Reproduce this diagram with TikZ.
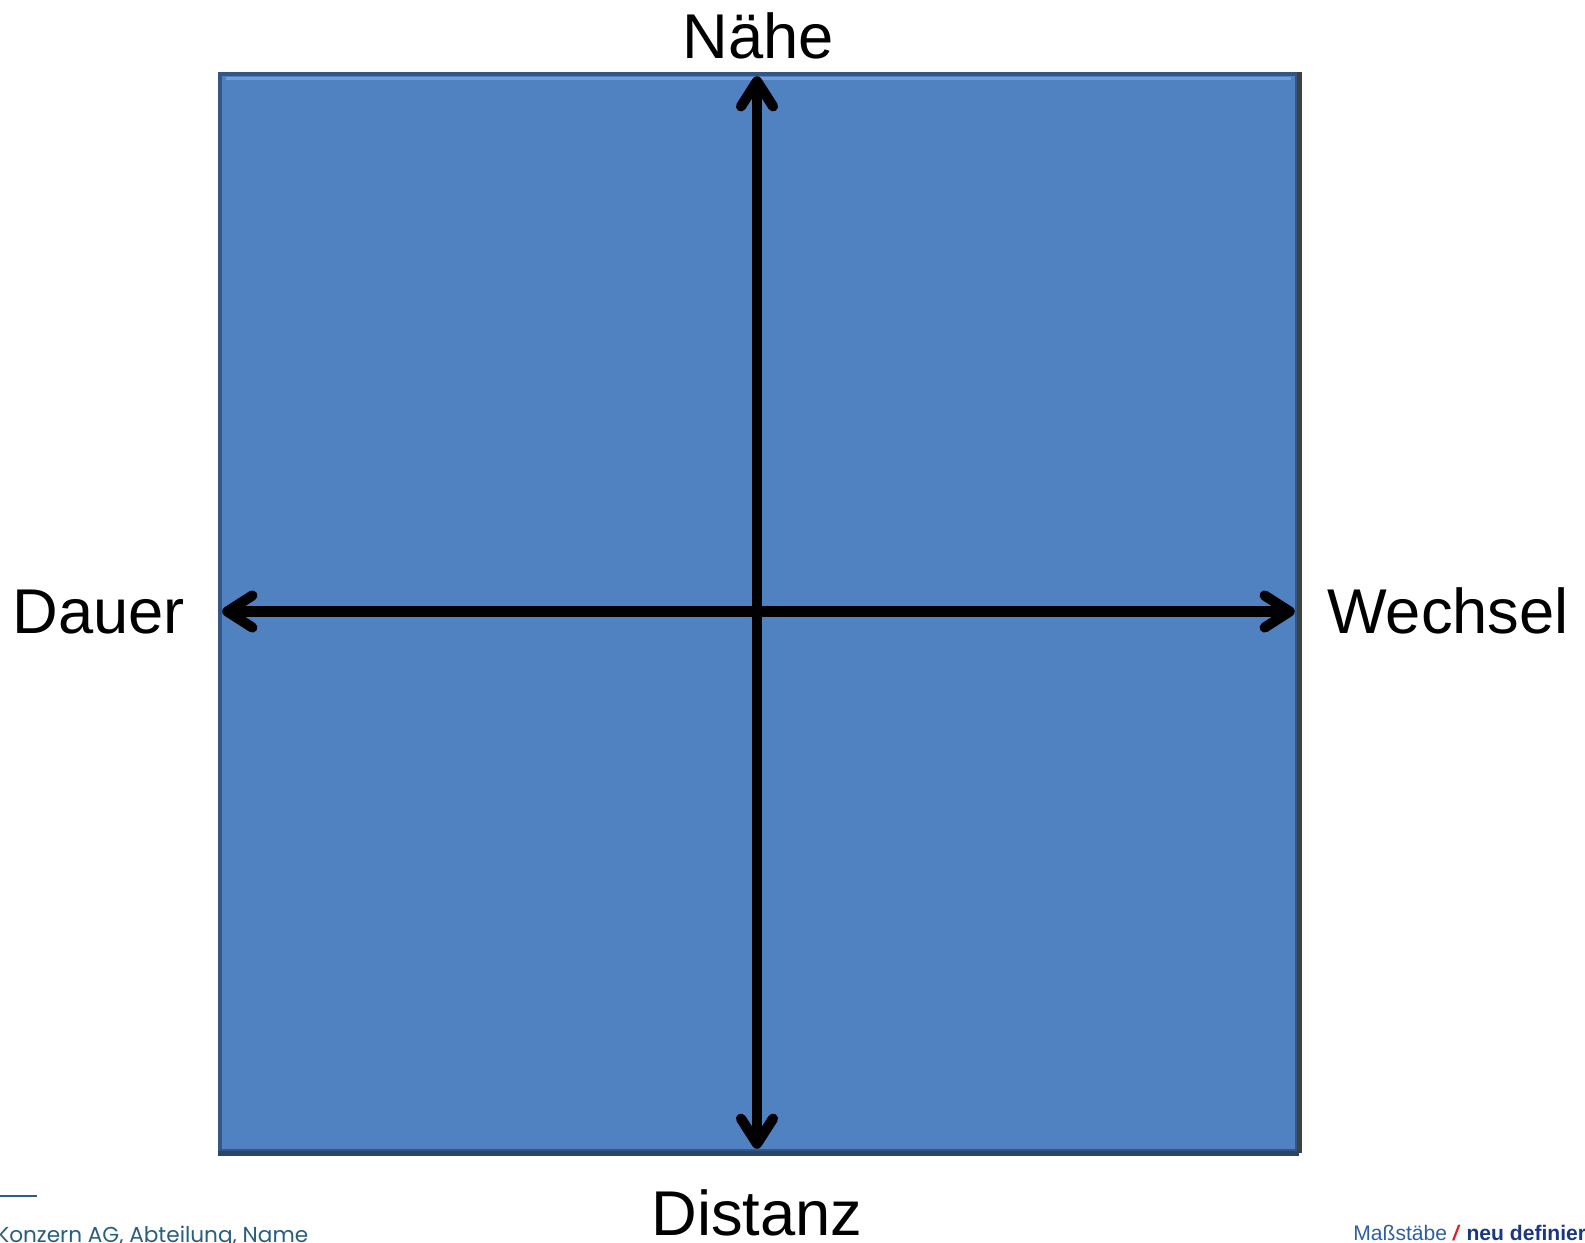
\documentclass[tikz,border=0pt]{standalone}
\usepackage{fontspec}
\setmainfont{Liberation Sans}
\newfontfamily\footfont{Poppins}
\usetikzlibrary{arrows.meta,positioning,calc}
\definecolor{boardblue}{RGB}{80,129,193}
\definecolor{boarddark}{RGB}{52,86,132}
\definecolor{boardlight}{RGB}{112,158,218}
\definecolor{footteal}{RGB}{40,95,125}
\definecolor{logoblue}{RGB}{45,95,165}
\definecolor{logodark}{RGB}{25,55,130}
\definecolor{logored}{RGB}{220,30,40}

\begin{document}
\begin{tikzpicture}[every node/.style={font=\fontsize{36}{40}\selectfont,inner sep=0pt},
  axis/.style={line width=5.8pt,line cap=round,{Straight Barb[length=0.5cm,width=0.64cm,round]}-{Straight Barb[length=0.5cm,width=0.64cm,round]}}]
  \useasboundingbox (0,0) rectangle (31.7,-24.84);
  % board with bevelled edges
  \node[draw=boarddark,line width=2pt,fill=boardblue,minimum width=21.54cm,minimum height=21.54cm] (sq) at (15.17,-12.25) {};
  \draw[boardlight,line width=1.5pt] ([xshift=0.15cm,yshift=-0.12cm]sq.north west) -- ([xshift=-0.15cm,yshift=-0.12cm]sq.north east);
  \draw[black!75,line width=3pt] ([xshift=0.02cm]sq.north east) -- ([xshift=0.02cm]sq.south east);
  \draw[boarddark!80!black,line width=3pt] ([yshift=-0.02cm]sq.south west) -- ([yshift=-0.02cm]sq.south east);
  % axes
  \coordinate (top) at ([yshift=-0.08cm]sq.north -| 15.14,0);
  \coordinate (bot) at ([yshift=0.08cm]sq.south -| 15.14,0);
  \coordinate (lft) at ([xshift=0.08cm]sq.west |- 0,-12.23);
  \coordinate (rgt) at ([xshift=-0.08cm]sq.east |- 0,-12.23);
  \draw[axis] (bot) -- (top);
  \draw[axis] (lft) -- (rgt);
  % labels
  \node[anchor=base] (naehe) at (15.16,-1.16) {Nähe};
  \node[anchor=base] (distanz) at (15.14,-24.70) {Distanz};
  \node[anchor=base west] (dauer) at (0.24,-12.66) {Dauer};
  \node[anchor=base west] (wechsel) at (26.54,-12.66) {Wechsel};
  % footer
  \draw[footteal,line width=1.2pt] (0,-23.92) coordinate (fl) -- (0.74,-23.92) coordinate (fr);
  \node[anchor=base west,footteal,font=\footfont\fontsize{12.3}{14}\selectfont] (firm) at (-0.08,-24.84) {Konzern AG, Abteilung, Name};
  \node[anchor=base west,font=\fontsize{12}{14}\selectfont] (logo) at (27.06,-24.80)
    {\textcolor{logoblue}{Maßstäbe} \textcolor{logored}{\textbf{\textit{/}}} \textcolor{logodark}{\textbf{neu definieren}}};
\end{tikzpicture}
\end{document}
